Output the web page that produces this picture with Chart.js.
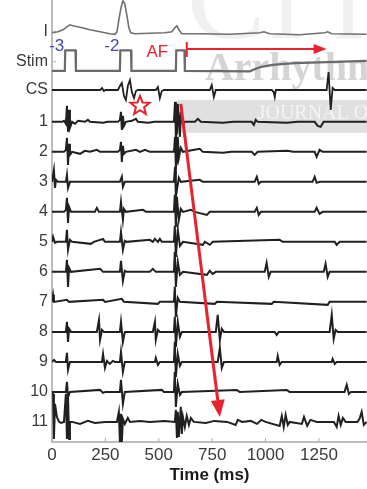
<!DOCTYPE html>
<html>
<head>
<meta charset="utf-8">
<script src="https://cdn.jsdelivr.net/npm/chart.js@4.4.1/dist/chart.umd.min.js"></script>
<style>
  html, body { margin: 0; padding: 0; background: #fff; }
</style>
</head>
<body>
<canvas id="myChart" width="367" height="489"></canvas>
<script>
// rows, bottom to top, and where each sits on the y axis
const rowNames  = ['11', '10', '9', '8', '7', '6', '5', '4', '3', '2', '1', 'CS', 'Stim', 'I'];
const rowLevels = [0.67, 1.67, 2.67, 3.67, 4.67, 5.67, 6.67, 7.67, 8.67, 9.67, 10.67, 11.73, 12.67, 13.67];
const xTicks = [0, 250, 500, 750, 1000, 1250];

// traces: [time ms, amplitude]
const traceI = [[0,-1],[28,0],[51,2],[70,5],[84,7],[98,6],[131,4.5],[178,2],[225,0],[271,-2],[295,-2.5],[304,0],[313,12],[323,24],[332,31],[341,28],[351,16],[360,4],[369,-1],[388,-2],[458,-1.5],[528,-1],[561,0],[575,4],[585,6],[594,2],[608,-2],[692,-2],[833,-2.5],[973,-1],[992,0],[1020,-2],[1160,-3],[1277,-1],[1291,0],[1310,-2],[1473,-2.5]];
const traceStim = [[0,-9],[60,-9],[62,11.5],[110,11.5],[112,-9],[318,-9],[320,11.5],[370,11.5],[372,-9],[580,-9],[582,11.5],[620,11.5],[622,-9],[926,-9.5],[954,-7],[980,-5],[1034,-3],[1090,-2],[1137,-1.3],[1250,-0.5],[1473,1]];
const traceCS = [[0,0],[225,0],[234,2],[243,-1],[250,0],[309,0],[318,4],[327,7],[337,-6],[346,-10],[355,4],[365,10],[374,-2],[384,-8],[393,-1],[402,0],[486,0],[496,3],[505,-8],[514,-1],[524,0],[739,0],[748,5],[758,-7],[767,0],[1029,0],[1038,-2],[1043,-7],[1048,0],[1286,0],[1295,18],[1305,-20],[1314,2],[1324,0],[1473,0]];
const trace1 = [[0,0],[47,0],[56,1],[65,-2],[70,16],[75,-10],[80,12],[84,-6],[94,0],[108,-2],[122,1],[154,0],[168,2],[178,0],[240,-1],[260,0],[309,0],[318,2],[323,10],[327,-8],[332,6],[337,-4],[346,0],[374,1],[393,3],[402,0],[450,-1],[480,0],[571,0],[576,20],[580,-15],[585,-11],[589,18],[599,-15],[603,10],[613,-3],[622,0],[669,0],[683,3],[697,0],[800,-1],[850,0],[935,0],[945,-3],[954,2],[963,0],[1100,-1],[1150,0],[1230,0],[1244,-4],[1258,-5],[1272,0],[1473,0]];
const trace2 = [[0,0],[56,0],[65,2],[70,14],[75,-13],[80,8],[84,-3],[94,0],[131,-2],[154,1],[178,0],[210,2],[225,0],[309,0],[318,2],[323,10],[327,-10],[332,6],[337,-2],[346,0],[393,2],[412,0],[435,2],[458,0],[571,0],[576,15],[580,-15],[585,-11],[589,15],[594,-6],[603,4],[613,0],[692,3],[706,0],[800,-1],[840,0],[935,0],[949,-3],[963,0],[1100,1],[1130,0],[1230,0],[1239,-5],[1253,2],[1267,0],[1473,0]];
const trace3 = [[0,0],[9,12],[14,-6],[19,2],[28,0],[65,0],[70,7],[75,-6],[84,0],[225,0],[318,0],[327,5],[332,-5],[341,0],[571,0],[576,15],[580,-15],[585,-8],[594,4],[603,0],[692,2],[706,0],[949,0],[959,5],[968,-2],[978,0],[1220,0],[1230,5],[1239,-1],[1253,0],[1473,0]];
const trace4 = [[0,0],[56,0],[65,2],[70,14],[75,-11],[80,5],[89,0],[201,0],[210,4],[220,0],[318,0],[323,10],[332,-8],[337,3],[346,0],[426,2],[440,0],[571,0],[575,17],[580,-15],[585,15],[594,-8],[603,3],[613,0],[650,2],[669,0],[725,-3],[739,0],[949,0],[959,4],[968,-3],[978,0],[1230,0],[1239,4],[1253,-2],[1267,0],[1473,0]];
const trace5 = [[0,0],[5,5],[14,-1],[23,0],[65,0],[70,12],[75,-8],[84,2],[94,0],[182,-2],[196,0],[239,3],[248,0],[318,0],[323,10],[332,-8],[341,1],[350,0],[458,2],[472,0],[482,3],[496,0],[505,3],[514,0],[571,0],[575,16],[580,-15],[589,12],[599,-4],[613,0],[706,-3],[716,0],[739,-3],[753,0],[1066,2],[1080,0],[1324,0],[1333,-3],[1347,0],[1473,0]];
const trace6 = [[0,0],[65,0],[70,12],[75,-15],[80,4],[89,0],[225,3],[239,0],[318,0],[323,11],[332,-9],[341,1],[350,0],[458,0],[472,3],[486,0],[571,0],[575,20],[580,-15],[589,10],[599,-3],[613,0],[725,-3],[739,1],[753,-2],[767,0],[996,0],[1005,9],[1015,-5],[1024,0],[1272,0],[1281,8],[1291,-5],[1300,0],[1473,0]];
const trace7 = [[0,0],[5,7],[9,0],[70,2],[80,0],[239,2],[248,0],[327,3],[337,0],[496,-2],[505,0],[571,0],[575,15],[580,-15],[589,4],[599,0],[762,-2],[772,0],[1029,-2],[1038,0],[1291,-3],[1300,0],[1473,0]];
const trace8 = [[0,0],[65,0],[70,10],[75,-10],[80,3],[89,0],[210,0],[220,12],[225,-8],[234,2],[243,0],[318,0],[323,10],[332,-10],[341,0],[472,0],[482,10],[486,-8],[496,2],[505,0],[571,0],[575,15],[580,-15],[589,10],[599,-5],[608,0],[767,0],[776,17],[786,-8],[795,3],[805,0],[1043,0],[1052,-3],[1062,0],[1300,0],[1310,17],[1319,-7],[1328,2],[1338,0],[1473,0]];
const trace9 = [[0,0],[9,2],[19,0],[65,0],[70,9],[75,-8],[84,0],[234,0],[239,8],[248,-6],[257,1],[271,-2],[285,1],[295,0],[318,0],[323,10],[332,-10],[341,0],[482,0],[486,4],[496,-3],[505,0],[571,0],[575,20],[580,-15],[589,8],[599,-4],[608,0],[776,0],[786,14],[795,-6],[805,0],[1052,0],[1057,6],[1066,-3],[1076,0],[1310,0],[1314,3],[1324,-2],[1333,0],[1473,0]];
const trace10 = [[0,0],[65,0],[70,10],[75,-5],[84,0],[225,2],[239,-1],[250,0],[318,0],[323,12],[332,-12],[341,0],[514,2],[524,0],[571,0],[575,20],[580,-15],[589,8],[599,-3],[608,0],[865,2],[879,0],[1099,2],[1113,0],[1370,0],[1380,7],[1390,-2],[1400,0],[1473,0]];
const trace11 = [[0,30],[5,28],[9,-17],[14,18],[23,5],[33,0],[42,-1],[56,0],[65,28],[70,-17],[75,25],[80,-17],[84,0],[94,0],[131,-2],[168,1],[201,-1],[250,0],[304,0],[313,10],[318,-20],[323,8],[327,-20],[332,3],[341,-2],[355,4],[365,0],[412,1],[458,0],[528,1],[575,0],[580,12],[585,-16],[589,10],[594,-15],[603,15],[608,-12],[613,5],[622,-5],[631,6],[641,-3],[650,4],[664,0],[720,-1],[760,1],[820,0],[860,-3],[870,2],[890,0],[930,1],[960,-2],[980,2],[1000,0],[1066,-4],[1076,6],[1085,-5],[1094,7],[1104,-3],[1113,0],[1170,-2],[1180,5],[1195,-4],[1210,2],[1240,0],[1320,0],[1333,-5],[1342,6],[1352,-3],[1362,4],[1375,0],[1430,0],[1440,3],[1450,10],[1460,-3],[1473,0]];

// annotations, in data units
const textNotes = [
  { text: '-3', t: 22,  y: 13.17, color: '#4848b4' },
  { text: '-2', t: 280, y: 13.17, color: '#4848b4' },
  { text: 'AF', t: 493, y: 13.0,  color: '#e8232d' }
];
const afArrow = { t0: 631, t1: 1286, y: 13.1, barTop: 13.33, barBottom: 12.83 };
const longArrow = { t0: 603, y0: 11.27, t1: 786, y1: 0.83 };
const starMark = { t: 412, y: 11.2 };

const gain = 1 / 30;
const traces = [
  { name: 'I', data: traceI, color: '#707070', width: 1.6 },
  { name: 'Stim', data: traceStim, color: '#6a6a6a', width: 2.2 },
  { name: 'CS', data: traceCS, color: '#202020', width: 1.8 },
  { name: '1', data: trace1 }, { name: '2', data: trace2 }, { name: '3', data: trace3 },
  { name: '4', data: trace4 }, { name: '5', data: trace5 }, { name: '6', data: trace6 },
  { name: '7', data: trace7 }, { name: '8', data: trace8 }, { name: '9', data: trace9 },
  { name: '10', data: trace10 }, { name: '11', data: trace11 }
];

const datasets = traces.map(tr => {
  const level = rowLevels[rowNames.indexOf(tr.name)];
  return {
    label: tr.name,
    data: tr.data.map(p => ({ x: p[0], y: level + p[1] * gain })),
    borderColor: tr.color || '#202020',
    borderWidth: tr.width || 2,
    pointRadius: 0,
    tension: 0,
    fill: false
  };
});

const RED = '#e8232d';

const extras = {
  id: 'extras',
  beforeDatasetsDraw(chart) {
    const { ctx, scales: { x, y }, chartArea } = chart;
    ctx.save();
    // faint watermark behind the traces
    ctx.fillStyle = '#e0e0e0';
    ctx.fillRect(x.getPixelForValue(585), y.getPixelForValue(11.4),
      chartArea.right - x.getPixelForValue(585), y.getPixelForValue(10.3) - y.getPixelForValue(11.4));
    ctx.fillStyle = '#f0f0f0';
    ctx.font = '118px "Liberation Serif", serif';
    ctx.textBaseline = 'alphabetic';
    ctx.fillText('C', x.getPixelForValue(631), y.getPixelForValue(13.47));
    ctx.fillText('i', x.getPixelForValue(1020), y.getPixelForValue(13.47));
    ctx.fillText('r', x.getPixelForValue(1320), y.getPixelForValue(13.47));
    ctx.fillStyle = '#d4d4d4';
    ctx.font = 'bold 40px "Liberation Serif", serif';
    ctx.fillText('Arrhythm', x.getPixelForValue(716), y.getPixelForValue(12.07));
    ctx.fillStyle = '#f4f4f4';
    ctx.font = '20px "Liberation Serif", serif';
    ctx.fillText('JOURNAL O', x.getPixelForValue(963), y.getPixelForValue(10.77));
    // small inward tick marks
    ctx.strokeStyle = '#b0b0b0';
    ctx.lineWidth = 1;
    x.ticks.forEach(tk => {
      const px = x.getPixelForValue(tk.value);
      ctx.beginPath();
      ctx.moveTo(px, chartArea.bottom);
      ctx.lineTo(px, chartArea.bottom - 4);
      ctx.stroke();
    });
    y.ticks.forEach(tk => {
      const py = y.getPixelForValue(tk.value);
      ctx.beginPath();
      ctx.moveTo(chartArea.left, py);
      ctx.lineTo(chartArea.left + 4, py);
      ctx.stroke();
    });
    ctx.restore();
  },
  afterDatasetsDraw(chart) {
    const { ctx, scales: { x, y } } = chart;
    ctx.save();
    ctx.font = '17px "Liberation Sans", Arial, sans-serif';
    ctx.textAlign = 'center';
    ctx.textBaseline = 'middle';
    textNotes.forEach(n => {
      ctx.fillStyle = n.color;
      ctx.fillText(n.text, x.getPixelForValue(n.t), y.getPixelForValue(n.y));
    });

    ctx.strokeStyle = RED;
    ctx.fillStyle = RED;
    // AF arrow
    const ax0 = x.getPixelForValue(afArrow.t0), ax1 = x.getPixelForValue(afArrow.t1);
    const ay = y.getPixelForValue(afArrow.y);
    ctx.lineWidth = 2;
    ctx.beginPath();
    ctx.moveTo(ax0, y.getPixelForValue(afArrow.barTop));
    ctx.lineTo(ax0, y.getPixelForValue(afArrow.barBottom));
    ctx.moveTo(ax0, ay);
    ctx.lineTo(ax1 - 10, ay);
    ctx.stroke();
    ctx.beginPath();
    ctx.moveTo(ax1, ay);
    ctx.lineTo(ax1 - 13, ay - 5);
    ctx.lineTo(ax1 - 13, ay + 5);
    ctx.closePath();
    ctx.fill();

    // conduction arrow
    const lx0 = x.getPixelForValue(longArrow.t0), ly0 = y.getPixelForValue(longArrow.y0);
    const lx1 = x.getPixelForValue(longArrow.t1), ly1 = y.getPixelForValue(longArrow.y1);
    const ang = Math.atan2(ly1 - ly0, lx1 - lx0);
    const hl = 17, hw = 7;
    const bx = lx1 - hl * Math.cos(ang), by = ly1 - hl * Math.sin(ang);
    ctx.lineWidth = 3;
    ctx.beginPath();
    ctx.moveTo(lx0, ly0);
    ctx.lineTo(bx, by);
    ctx.stroke();
    ctx.beginPath();
    ctx.moveTo(lx1, ly1);
    ctx.lineTo(bx + hw * Math.sin(ang), by - hw * Math.cos(ang));
    ctx.lineTo(bx - hw * Math.sin(ang), by + hw * Math.cos(ang));
    ctx.closePath();
    ctx.fill();

    // star
    const sx = x.getPixelForValue(starMark.t), sy = y.getPixelForValue(starMark.y);
    ctx.lineWidth = 2;
    ctx.beginPath();
    for (let i = 0; i < 10; i++) {
      const a = -Math.PI / 2 + i * Math.PI / 5;
      const r = i % 2 ? 4.3 : 10;
      ctx.lineTo(sx + r * Math.cos(a), sy + r * Math.sin(a));
    }
    ctx.closePath();
    ctx.stroke();
    ctx.restore();
  }
};

const font = '"Liberation Sans", Arial, Helvetica, sans-serif';

new Chart('myChart', {
  type: 'line',
  data: { datasets },
  options: {
    responsive: false,
    animation: false,
    devicePixelRatio: 1,
    layout: { padding: 0 },
    plugins: { legend: { display: false }, tooltip: { enabled: false } },
    scales: {
      x: {
        type: 'linear',
        min: 0,
        max: 1475,
        afterBuildTicks: s => { s.ticks = xTicks.map(v => ({ value: v })); },
        afterFit: s => { s.height = 47; },
        grid: { display: false, drawTicks: false },
        border: { color: '#bdbdbd', width: 2 },
        ticks: {
          padding: 3,
          color: '#3a3a3a',
          font: { family: font, size: 17 },
          callback: v => String(v)
        },
        title: {
          display: true,
          text: 'Time (ms)',
          color: '#1a1a1a',
          padding: { top: 0, bottom: 3 },
          font: { family: font, size: 17, weight: 'bold' }
        }
      },
      y: {
        type: 'linear',
        min: 0,
        max: 14.73,
        afterBuildTicks: s => { s.ticks = rowLevels.map(v => ({ value: v })); },
        afterFit: s => { s.width = 52; s.paddingTop = 0; s.paddingBottom = 0; },
        grid: { display: false, drawTicks: false },
        border: { color: '#bdbdbd', width: 2 },
        ticks: {
          padding: 4,
          color: '#3a3a3a',
          font: { family: font, size: 16 },
          callback: (v, i) => rowNames[i]
        }
      }
    }
  },
  plugins: [extras]
});
</script>
</body>
</html>
